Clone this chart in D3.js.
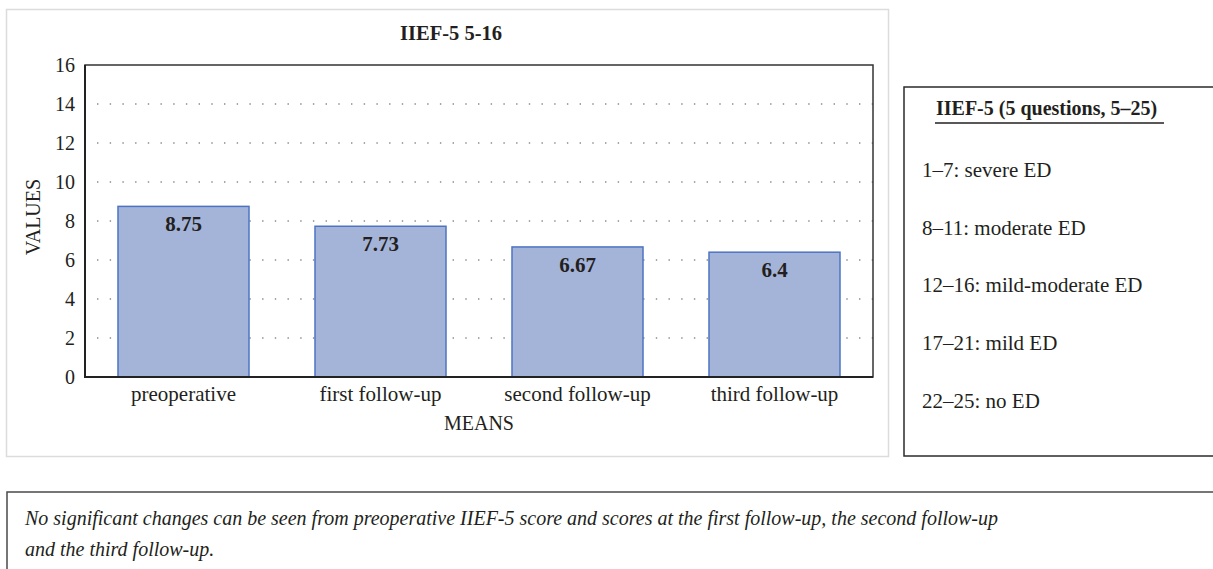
<!DOCTYPE html>
<html>
<head>
<meta charset="utf-8">
<script src="https://cdn.jsdelivr.net/npm/d3@7"></script>
<style>
  body { margin: 0; background: #fff; }
  text { font-family: "Liberation Serif", "DejaVu Serif", serif; fill: #231f20; }
</style>
</head>
<body>
<div id="place"></div>
<script>
(function() {

	// data
	const categories = ["preoperative", "first follow-up", "second follow-up", "third follow-up"];
	const means = [8.75, 7.73, 6.67, 6.4];
	const yTicks = [0, 2, 4, 6, 8, 10, 12, 14, 16];
	const legendTitle = "IIEF-5 (5 questions, 5\u201325)";
	const legendItems = ["1\u20137: severe ED", "8\u201311: moderate ED", "12\u201316: mild-moderate ED", "17\u201321: mild ED", "22\u201325: no ED"];
	const noteLines = [
		"No significant changes can be seen from preoperative IIEF-5 score and scores at the first follow-up, the second follow-up",
		"and the third follow-up."
	];

	const W = 1213, H = 569;
	const plot = { left: 85, top: 65, right: 873, bottom: 377 };

	let svg = d3.select("#place").append("svg")
		.attr('width', W)
		.attr('height', H)

	// outer chart frame
	svg.append('rect')
		.attr('x', 6.5).attr('y', 9.5)
		.attr('width', 882).attr('height', 447)
		.attr('fill', 'none')
		.attr('stroke', '#dcdcdc')
		.attr('stroke-width', 1.5)

	const x = d3.scaleBand()
		.domain(categories)
		.range([plot.left, plot.right])
		.paddingInner(0.335)
		.paddingOuter(0.1675)

	const y = d3.scaleLinear()
		.domain([0, 16])
		.range([plot.bottom, plot.top])

	// dotted grid
	svg.append('g')
		.selectAll('line')
		.data(yTicks.filter(d => d > 0 && d < 16))
	  .enter().append('line')
		.attr('x1', plot.left + 12).attr('x2', plot.right)
		.attr('y1', d => y(d)).attr('y2', d => y(d))
		.attr('stroke', '#8a8a8a')
		.attr('stroke-width', 1.4)
		.attr('stroke-dasharray', '1.4,11.3')

	// bars
	svg.append('g')
	  .selectAll('rect')
		.data(means)
	  .enter().append('rect')
		.attr('x', (d, i) => x(categories[i]))
		.attr('y', d => y(d))
		.attr('width', x.bandwidth())
		.attr('height', d => y(0) - y(d))
		.attr('fill', '#a4b4d9')
		.attr('stroke', '#4d74c2')
		.attr('stroke-width', 1.5)

	// value labels
	svg.append('g')
	  .selectAll('text')
		.data(means)
	  .enter().append('text')
		.attr('x', (d, i) => x(categories[i]) + x.bandwidth() / 2)
		.attr('y', d => y(d) + 25)
		.attr('text-anchor', 'middle')
		.attr('font-size', 21)
		.attr('font-weight', 'bold')
		.text(d => d)

	// plot border
	svg.append('rect')
		.attr('x', plot.left).attr('y', plot.top)
		.attr('width', plot.right - plot.left)
		.attr('height', plot.bottom - plot.top)
		.attr('fill', 'none')
		.attr('stroke', '#333')
		.attr('stroke-width', 1.5)
	svg.append('path')
		.attr('d', `M${plot.left},${plot.top}V${plot.bottom}H${plot.right}`)
		.attr('fill', 'none')
		.attr('stroke', '#222')
		.attr('stroke-width', 2)

	// axes, only the labels are kept
	const yAxis = svg.append('g')
		.attr('transform', `translate(${plot.left},0)`)
		.call(d3.axisLeft(y).tickValues(yTicks).tickSize(0).tickPadding(10))
	yAxis.select('.domain').remove()
	yAxis.selectAll('text')
		.attr('font-size', 20)
		.attr('fill', '#231f20')

	const xAxis = svg.append('g')
		.attr('transform', `translate(0,${plot.bottom})`)
		.call(d3.axisBottom(x).tickSize(0).tickPadding(10))
	xAxis.select('.domain').remove()
	xAxis.selectAll('text')
		.attr('font-size', 21)
		.attr('fill', '#231f20')
		.attr('dy', null)
		.attr('y', 24)

	// titles
	svg.append('text')
		.attr('x', 451).attr('y', 40)
		.attr('text-anchor', 'middle')
		.attr('font-size', 20.5)
		.attr('font-weight', 'bold')
		.text("IIEF-5 5-16")

	svg.append('text')
		.attr('x', (plot.left + plot.right) / 2).attr('y', 430)
		.attr('text-anchor', 'middle')
		.attr('font-size', 20)
		.text("MEANS")

	svg.append('text')
		.attr('transform', 'translate(40,217) rotate(-90)')
		.attr('text-anchor', 'middle')
		.attr('font-size', 20)
		.text("VALUES")

	// legend box
	svg.append('rect')
		.attr('x', 904).attr('y', 87)
		.attr('width', 330).attr('height', 369)
		.attr('fill', 'none')
		.attr('stroke', '#2b2b2b')
		.attr('stroke-width', 1.5)

	svg.append('text')
		.attr('x', 936).attr('y', 115)
		.attr('font-size', 20)
		.attr('font-weight', 'bold')
		.text(legendTitle)
	svg.append('line')
		.attr('x1', 935).attr('x2', 1164)
		.attr('y1', 123).attr('y2', 123)
		.attr('stroke', '#231f20')
		.attr('stroke-width', 1.5)

	svg.append('g')
	  .selectAll('text')
		.data(legendItems)
	  .enter().append('text')
		.attr('x', 922)
		.attr('y', (d, i) => 177 + i * 57.7)
		.attr('font-size', 21)
		.text(d => d)

	// note box
	svg.append('rect')
		.attr('x', 7).attr('y', 492)
		.attr('width', 1230).attr('height', 120)
		.attr('fill', 'none')
		.attr('stroke', '#4a4a4a')
		.attr('stroke-width', 1.5)

	svg.append('g')
	  .selectAll('text')
		.data(noteLines)
	  .enter().append('text')
		.attr('x', 25)
		.attr('y', (d, i) => 525 + i * 31)
		.attr('font-size', 20)
		.attr('font-style', 'italic')
		.text(d => d)

})()
</script>
</body>
</html>
